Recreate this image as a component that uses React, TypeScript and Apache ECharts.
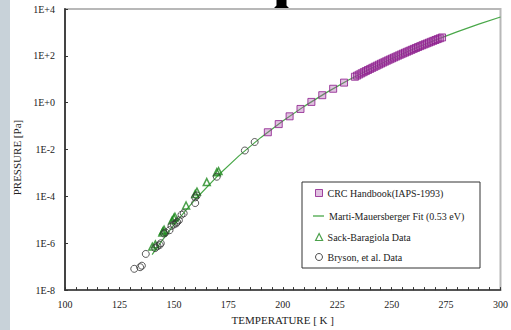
import React, { useEffect, useRef } from 'react';
import * as echarts from 'echarts';

// CRC Handbook (IAPS-1993) ice vapour pressure
const crcT = [193.15, 198.15, 203.15, 208.15, 213.15, 218.15, 223.15, 228.15,
  233.15, 234.15, 235.15, 236.15, 237.15, 238.15, 239.15, 240.15, 241.15, 242.15,
  243.15, 244.15, 245.15, 246.15, 247.15, 248.15, 249.15, 250.15, 251.15, 252.15,
  253.15, 254.15, 255.15, 256.15, 257.15, 258.15, 259.15, 260.15, 261.15, 262.15,
  263.15, 264.15, 265.15, 266.15, 267.15, 268.15, 269.15, 270.15, 271.15, 272.15, 273.15];
const crcP = [0.0547, 0.122, 0.262, 0.541, 1.08, 2.09, 3.94, 7.2,
  12.84, 14.37, 16.07, 17.96, 20.04, 22.35, 24.9, 27.71, 30.82, 34.24,
  38.01, 42.16, 46.73, 51.74, 57.25, 63.29, 69.91, 77.16, 85.1, 93.77,
  103.26, 113.62, 124.92, 137.25, 150.68, 165.3, 181.22, 198.52, 217.32, 237.74,
  259.9, 283.94, 309.98, 338.19, 368.73, 401.76, 437.47, 476.06, 517.72, 562.67, 611.15];

// Marti-Mauersberger fit (0.53 eV)
const fitT = [140, 145, 150, 155, 160, 170, 180, 190, 200, 210, 220, 230, 240, 250, 260, 270, 280, 290, 300];
const fitP = [3.25e-7, 1.47e-6, 6.03e-6, 2.25e-5, 7.76e-5, 7.4e-4, 5.5e-3, 3.3e-2, 0.166, 0.714,
  2.69, 9.05, 27.5, 76.4, 196, 470, 1058, 2252, 4557];

// Sack-Baragiola data
const sackT = [140.1, 141.5, 144.7, 145.0, 145.5, 149.2, 150.0, 150.5, 155.6, 159.8, 160.6, 165.1, 169.7, 170.5];
const sackP = [7.2e-7, 9.0e-7, 2.9e-6, 3.3e-6, 3.8e-6, 9.5e-6, 1.2e-5, 1.35e-5, 4.1e-5, 1.26e-4, 1.6e-4, 4.1e-4, 1.07e-3, 1.2e-3];

// Bryson, et al. data
const brysonT = [131.8, 134.5, 135.3, 137.1, 141.4, 142.5, 143.5, 144.0, 145.5, 146.2, 148.0, 148.9,
  150.0, 151.0, 151.5, 152.3, 153.5, 154.5, 159.8, 159.8, 160.5, 169.7, 182.6, 187.1];
const brysonP = [8.1e-8, 9.5e-8, 1.1e-7, 3.5e-7, 6.2e-7, 7.5e-7, 8.5e-7, 1.0e-6, 2.6e-6, 2.9e-6, 3.6e-6, 5.5e-6,
  6.3e-6, 7.0e-6, 8.1e-6, 9.5e-6, 1.65e-5, 1.9e-5, 5.2e-5, 9.1e-5, 1.1e-4, 6.9e-4, 9.1e-3, 2.1e-2];

const xLabels = [100, 125, 150, 175, 200, 225, 250, 275, 300];

const names = ['CRC Handbook(IAPS-1993)', 'Marti-Mauersberger Fit (0.53 eV)', 'Sack-Baragiola Data', 'Bryson, et al. Data'];

const FONT = '"Liberation Serif", "Times New Roman", serif';
const PURPLE = '#8b1a8b';
const SQ_FILL = 'rgba(170,80,170,0.45)';
const GREEN_LINE = '#4aa84a';
const GREEN_MK = '#1f8a1f';
const DARK = '#333333';

const zip = (a: number[], b: number[]) => a.map((v, i) => [v, b[i]]);

const legendCommon = {
  orient: 'vertical' as const,
  padding: 0,
  selectedMode: false,
  itemHeight: 7,
  textStyle: { fontFamily: FONT, fontSize: 10, color: '#222', lineHeight: 10 },
};

export default function App() {
  const ref = useRef<HTMLDivElement>(null);
  useEffect(() => {
    const chart = echarts.init(ref.current!, null, { renderer: 'svg' });
    chart.setOption({
      animation: false,
      backgroundColor: '#ffffff',
      grid: {
        left: 65, right: 6, top: 9, bottom: 35,
        show: true, borderColor: '#b8b8b8', borderWidth: 2, backgroundColor: 'transparent',
      },
      xAxis: {
        type: 'value', min: 100, max: 300, interval: 5,
        name: 'TEMPERATURE [ K ]', nameLocation: 'middle', nameGap: 22,
        nameTextStyle: { fontFamily: FONT, fontSize: 11, color: '#222' },
        axisLine: { lineStyle: { color: DARK, width: 1.5 } },
        axisTick: { inside: true, length: 3, lineStyle: { color: DARK } },
        axisLabel: {
          fontFamily: FONT, fontSize: 10, color: '#222', margin: 9,
          formatter: (v: number) => (xLabels.includes(v) ? String(v) : ''),
        },
        splitLine: { show: false },
      },
      yAxis: {
        type: 'log', logBase: 10, min: 1e-8, max: 1e4, interval: 2,
        name: 'PRESSURE [Pa]', nameLocation: 'middle', nameGap: 41, nameRotate: 90,
        nameTextStyle: { fontFamily: FONT, fontSize: 11, color: '#222', padding: [0, 16, 0, 0] },
        axisLine: { lineStyle: { color: '#444', width: 2 } },
        axisTick: { inside: true, length: 3, lineStyle: { color: DARK } },
        axisLabel: {
          fontFamily: FONT, fontSize: 10, color: '#222', margin: 10,
          formatter: (v: number) => {
            const e = Math.round(Math.log10(v));
            return e >= 0 ? `1E+${e}` : `1E${e}`;
          },
        },
        splitLine: { show: false },
        minorTick: { show: false },
      },
      legend: [
        { ...legendCommon, left: 315, top: 188, itemWidth: 7,
          data: [{ name: names[0], icon: 'rect', itemStyle: { color: SQ_FILL, borderColor: PURPLE, borderWidth: 1 } }] },
        { ...legendCommon, left: 313, top: 211, itemWidth: 11, itemHeight: 1.3,
          data: [{ name: names[1], icon: 'rect', itemStyle: { color: GREEN_LINE, borderWidth: 0 } }] },
        { ...legendCommon, left: 315, top: 232, itemWidth: 7,
          data: [{ name: names[2], icon: 'triangle', itemStyle: { color: '#ffffff', borderColor: GREEN_MK, borderWidth: 1.2 } }] },
        { ...legendCommon, left: 315, top: 252, itemWidth: 7,
          data: [{ name: names[3], icon: 'circle', itemStyle: { color: '#ffffff', borderColor: '#222', borderWidth: 1 } }] },
      ],
      graphic: [
        { type: 'rect', left: 0, top: 0, shape: { x: 0, y: 0, width: 10, height: 330 }, style: { fill: '#c8d2d9' }, z: 10 },
        { type: 'rect', shape: { x: 302, y: 182, width: 178, height: 86 }, style: { fill: '#ffffff', stroke: '#333', lineWidth: 1 }, z: 3 },
        { type: 'polygon', shape: { points: [[276.5, 0], [286.5, 0], [286.5, 5.5], [289, 8], [274, 8], [276.5, 5.5]] }, style: { fill: '#000' }, z: 10 },
      ],
      series: [
        {
          name: names[1], type: 'line', data: zip(fitT, fitP), symbol: 'none', z: 1,
          lineStyle: { color: GREEN_LINE, width: 1.2 }, itemStyle: { color: GREEN_LINE },
        },
        {
          name: names[0], type: 'scatter', data: zip(crcT, crcP), symbol: 'rect', symbolSize: 7, z: 3,
          itemStyle: { color: SQ_FILL, borderColor: PURPLE, borderWidth: 1 },
        },
        {
          name: names[2], type: 'scatter', data: zip(sackT, sackP), symbol: 'triangle', symbolSize: 7, z: 3,
          itemStyle: { color: 'rgba(255,255,255,0)', borderColor: GREEN_MK, borderWidth: 1.5 },
        },
        {
          name: names[3], type: 'scatter', data: zip(brysonT, brysonP), symbol: 'circle', symbolSize: 7, z: 4,
          itemStyle: { color: 'rgba(255,255,255,0)', borderColor: '#333', borderWidth: 1 },
        },
      ],
    });
    return () => chart.dispose();
  }, []);
  return <div ref={ref} style={{ width: 511, height: 330, position: 'absolute', left: 0, top: 0 }} />;
}
